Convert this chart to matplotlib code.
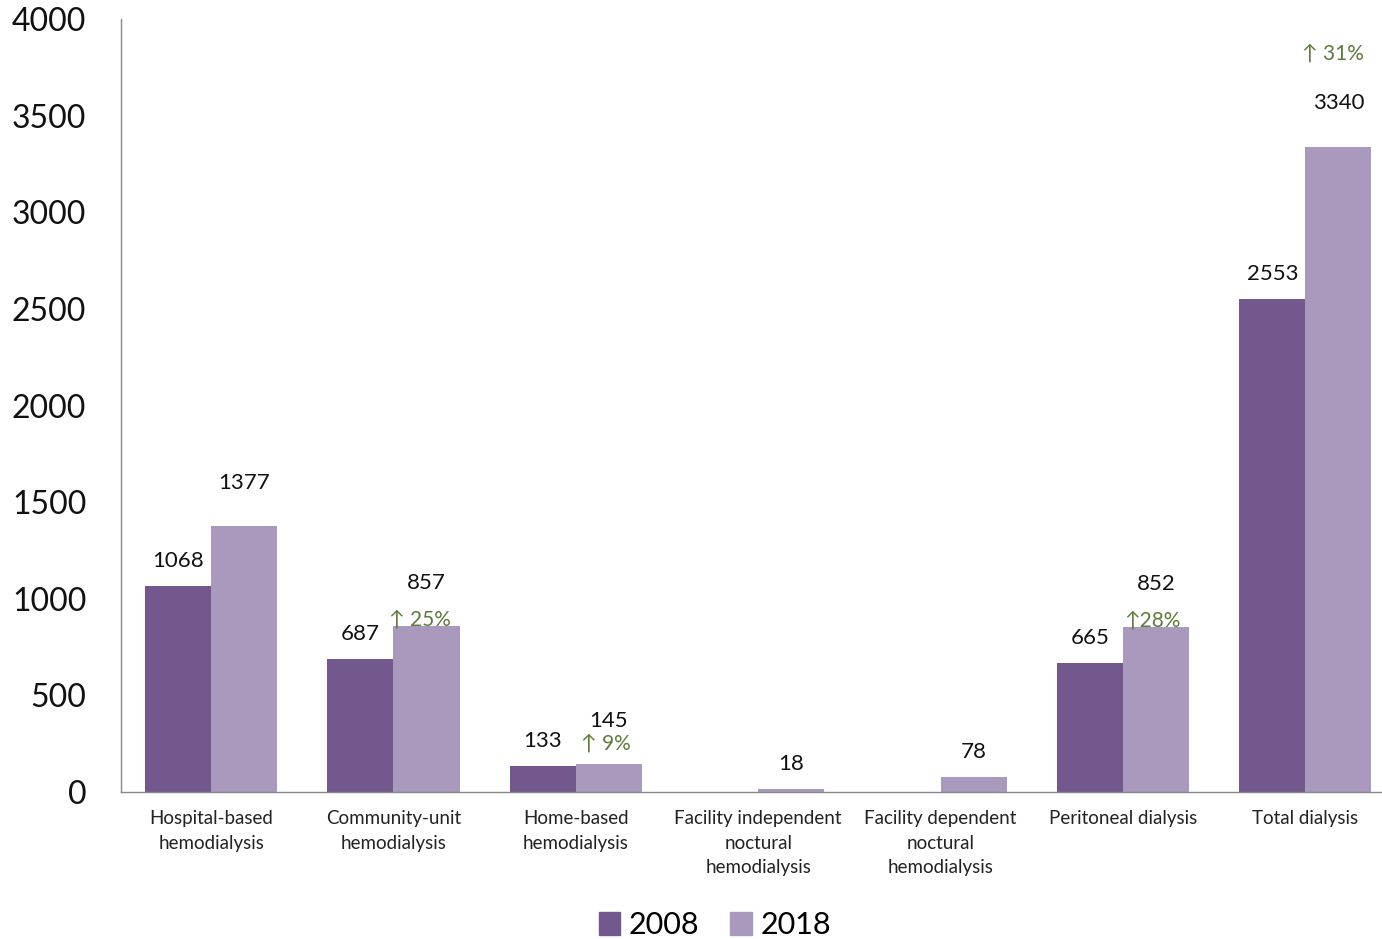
import matplotlib
matplotlib.use("Agg")
import matplotlib.pyplot as plt
from matplotlib.patches import Patch
import numpy as np

plt.rcParams['font.family'] = ['Lato', 'DejaVu Sans']

categories = [
    "Hospital-based\nhemodialysis",
    "Community-unit\nhemodialysis",
    "Home-based\nhemodialysis",
    "Facility independent\nnoctural\nhemodialysis",
    "Facility dependent\nnoctural\nhemodialysis",
    "Peritoneal dialysis",
    "Total dialysis",
]
values_2008 = [1068, 687, 133, None, None, 665, 2553]
values_2018 = [1377, 857, 145, 18, 78, 852, 3340]
series_labels = ["2008", "2018"]

# growth annotations: category index -> label
growth_idx = [1, 2, 5, 6]
growth_txt = ["\u2191 25%", "\u2191 9%", "\u219128%", "\u2191 31%"]

col_2008 = "#72588C"
col_2018 = "#A99ABD"
green = "#5E7A3C"

W, H = 1382, 939
fig = plt.figure(figsize=(W / 100, H / 100), dpi=100)
ax = fig.add_axes([121 / W, 1 - 792 / H, 1 - 121 / W, (792 - 19) / H])

x = np.arange(len(categories))
bw = 0.362
v08 = [np.nan if v is None else v for v in values_2008]
ax.bar(x - bw / 2, v08, bw, color=col_2008, label=series_labels[0])
ax.bar(x + bw / 2, values_2018, bw, color=col_2018, label=series_labels[1])

ax.set_xlim(-0.494, 6.42)
ax.set_ylim(0, 4000)
ax.set_yticks(np.arange(0, 4001, 500))
ax.tick_params(axis='y', length=0, labelsize=23, pad=25)
ax.tick_params(axis='x', length=0, labelsize=13.5, pad=13)
ax.set_xticks(x)
ax.set_xticklabels(categories, linespacing=1.55, color="#222222")
for lbl in ax.get_yticklabels():
    lbl.set_horizontalalignment('right')
    lbl.set_color("#111111")

for s in ["top", "right"]:
    ax.spines[s].set_visible(False)
for s in ["left", "bottom"]:
    ax.spines[s].set_color("#888888")
    ax.spines[s].set_linewidth(1.0)

# value labels
for i, v in enumerate(values_2008):
    if v is None:
        continue
    ax.annotate(f"{v}", (x[i] - bw / 2, v), xytext=(0, 18), textcoords="offset points",
                ha="center", va="center", fontsize=16, color="#111111")
for i, v in enumerate(values_2018):
    off = 31 if values_2008[i] is not None else 18
    ax.annotate(f"{v}", (x[i] + bw / 2, v), xytext=(0, off), textcoords="offset points",
                ha="center", va="center", fontsize=16, color="#111111")

# growth labels
growth_off = {1: (-5, 5), 2: (-2, 15), 5: (-3, 5), 6: (-4, 67)}
for i, t in zip(growth_idx, growth_txt):
    dx, dy = growth_off[i]
    ax.annotate(t, (x[i] + bw / 2, values_2018[i]), xytext=(dx, dy), textcoords="offset points",
                ha="center", va="center", fontsize=15, color=green)

handles = [Patch(color=col_2008), Patch(color=col_2018)]
fig.legend(handles, series_labels, loc="center", bbox_to_anchor=(715 / W, 1 - 925 / H),
           ncol=2, frameon=False, fontsize=22, handlelength=0.7, handleheight=0.75,
           handletextpad=0.3, columnspacing=1.0)

fig.savefig("out.png", dpi=100)
